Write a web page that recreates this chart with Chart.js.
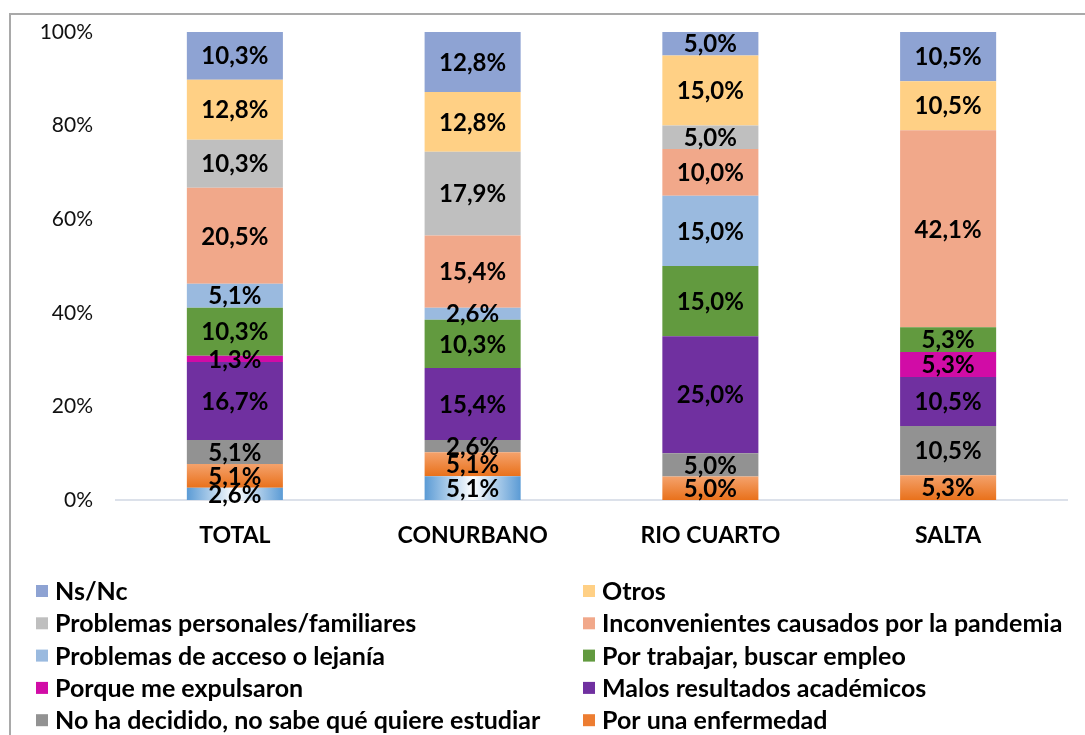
<!DOCTYPE html>
<html><head><meta charset="utf-8">
<script src="https://cdn.jsdelivr.net/npm/chart.js@4.4.0/dist/chart.umd.min.js"></script>
<style>
html,body{margin:0;padding:0;background:#fff;overflow:hidden;}
#wrap{position:relative;width:1085px;height:735px;}
#frame{position:absolute;left:9px;top:13px;width:1200px;height:800px;border-left:2px solid #a9a9a9;border-top:2px solid #a9a9a9;box-sizing:border-box;}
canvas{position:absolute;left:0;top:0;}
</style></head>
<body><div id="wrap"><div id="frame"></div><canvas id="c" width="1085" height="735"></canvas></div>
<script>
const categories = ['TOTAL', 'CONURBANO', 'RIO CUARTO', 'SALTA'];
const yTickValues = [0, 20, 40, 60, 80, 100];
// stacked bottom -> top
const otroMotivo      = [2.6, 5.1, 0, 0];
const enfermedad      = [5.1, 5.1, 5.0, 5.3];
const noDecidido      = [5.1, 2.6, 5.0, 10.5];
const malosResultados = [16.7, 15.4, 25.0, 10.5];
const expulsaron      = [1.3, 0, 0, 5.3];
const trabajar        = [10.3, 10.3, 15.0, 5.3];
const acceso          = [5.1, 2.6, 15.0, 0];
const pandemia        = [20.5, 15.4, 10.0, 42.1];
const personales      = [10.3, 17.9, 5.0, 0];
const otros           = [12.8, 12.8, 15.0, 10.5];
const nsnc            = [10.3, 12.8, 5.0, 10.5];

const seriesNames = ['Otros motivos', 'Por una enfermedad', 'No ha decidido, no sabe qué quiere estudiar',
  'Malos resultados académicos', 'Porque me expulsaron', 'Por trabajar, buscar empleo',
  'Problemas de acceso o lejanía', 'Inconvenientes causados por la pandemia',
  'Problemas personales/familiares', 'Otros', 'Ns/Nc'];
const seriesValues = [otroMotivo, enfermedad, noDecidido, malosResultados, expulsaron, trabajar,
  acceso, pandemia, personales, otros, nsnc];
const seriesColors = ['#8dbbe6', '#ED7D31', '#929292', '#7030A0', '#D10CA6', '#629A3F',
  '#9ABADF', '#F1A88A', '#BFBFBF', '#FFD085', '#8EA3D3'];

function segBounds(chart, di, idx) {
  let base = 0;
  for (let d = 0; d < di; d++) base += chart.data.datasets[d].data[idx] || 0;
  return [base, base + (chart.data.datasets[di].data[idx] || 0)];
}

function bgFor(i) {
  if (i === 0) {
    return function (ctx) {
      const chart = ctx.chart, xs = chart.scales.x;
      if (!xs || ctx.type !== 'data' || !chart.chartArea) return seriesColors[0];
      const w = xs.width / categories.length * 0.404;
      const cx = xs.getPixelForValue(ctx.dataIndex);
      const g = chart.ctx.createLinearGradient(cx - w / 2, 0, cx + w / 2, 0);
      g.addColorStop(0, '#5B9BD5'); g.addColorStop(0.5, '#ffffff'); g.addColorStop(1, '#5B9BD5');
      return g;
    };
  }
  if (i === 1) {
    return function (ctx) {
      const chart = ctx.chart, ys = chart.scales.y;
      if (!ys || ctx.type !== 'data' || !chart.chartArea) return seriesColors[1];
      const [a, b] = segBounds(chart, ctx.datasetIndex, ctx.dataIndex);
      const g = chart.ctx.createLinearGradient(0, ys.getPixelForValue(b), 0, ys.getPixelForValue(a));
      g.addColorStop(0, '#F4A26C'); g.addColorStop(1, '#E9711B');
      return g;
    };
  }
  return seriesColors[i];
}

const datasets = seriesNames.map((name, i) => ({
  label: name,
  data: seriesValues[i],
  backgroundColor: bgFor(i),
  legendColor: seriesColors[i],
  borderWidth: 0,
  categoryPercentage: 1,
  barPercentage: 0.404
}));

const FONT = 'Lato, "Noto Sans", sans-serif';

const valueLabels = {
  id: 'valueLabels',
  afterDatasetsDraw(chart) {
    const ctx = chart.ctx;
    ctx.save();
    ctx.font = 'bold 24px ' + FONT;
    ctx.fillStyle = '#000';
    ctx.textAlign = 'center';
    ctx.textBaseline = 'middle';
    chart.data.datasets.forEach((ds, di) => {
      const meta = chart.getDatasetMeta(di);
      meta.data.forEach((el, idx) => {
        const v = ds.data[idx];
        if (!v) return;
        const txt = v.toFixed(1).replace('.', ',') + '%';
        ctx.fillText(txt, el.x, (el.y + el.base) / 2 + 1);
      });
    });
    ctx.restore();
  }
};

const customLegend = {
  id: 'customLegend',
  afterDraw(chart) {
    const ctx = chart.ctx;
    const items = chart.data.datasets.slice().reverse();
    ctx.save();
    ctx.font = 'bold 25px ' + FONT;
    ctx.textBaseline = 'middle';
    ctx.textAlign = 'left';
    items.forEach((ds, i) => {
      const col = i % 2, row = Math.floor(i / 2);
      const x0 = col === 0 ? 36 : 583;
      const y = 591 + row * 32.3;
      ctx.fillStyle = ds.legendColor;
      ctx.fillRect(x0, y - 6, 12, 12);
      ctx.fillStyle = '#000';
      ctx.fillText(ds.label, x0 + 19, y + 1);
    });
    ctx.restore();
  }
};

new Chart(document.getElementById('c'), {
  type: 'bar',
  data: { labels: categories, datasets },
  options: {
    responsive: false,
    animation: false,
    layout: { padding: { top: 32, right: 18, left: 0, bottom: 0 } },
    plugins: { legend: { display: false }, tooltip: { enabled: false } },
    scales: {
      x: {
        stacked: true,
        grid: { display: false, drawTicks: false },
        border: { display: true, color: '#DCE1EA', width: 2 },
        ticks: { padding: 22, color: '#000', font: { family: FONT, size: 23, weight: 'bold' } },
        afterFit(s) { s.height = 235; s.paddingLeft = 0; s.paddingRight = 0; }
      },
      y: {
        stacked: true,
        min: 0, max: 100,
        afterBuildTicks(s) { s.ticks = yTickValues.map(v => ({ value: v })); },
        grid: { display: false, drawTicks: false },
        border: { display: false },
        ticks: { padding: 23, color: '#111', font: { family: FONT, size: 21 }, callback: v => v + '%' },
        afterFit(s) { s.width = 116; s.paddingTop = 0; s.paddingBottom = 0; }
      }
    }
  },
  plugins: [valueLabels, customLegend]
});
</script>
</body></html>
